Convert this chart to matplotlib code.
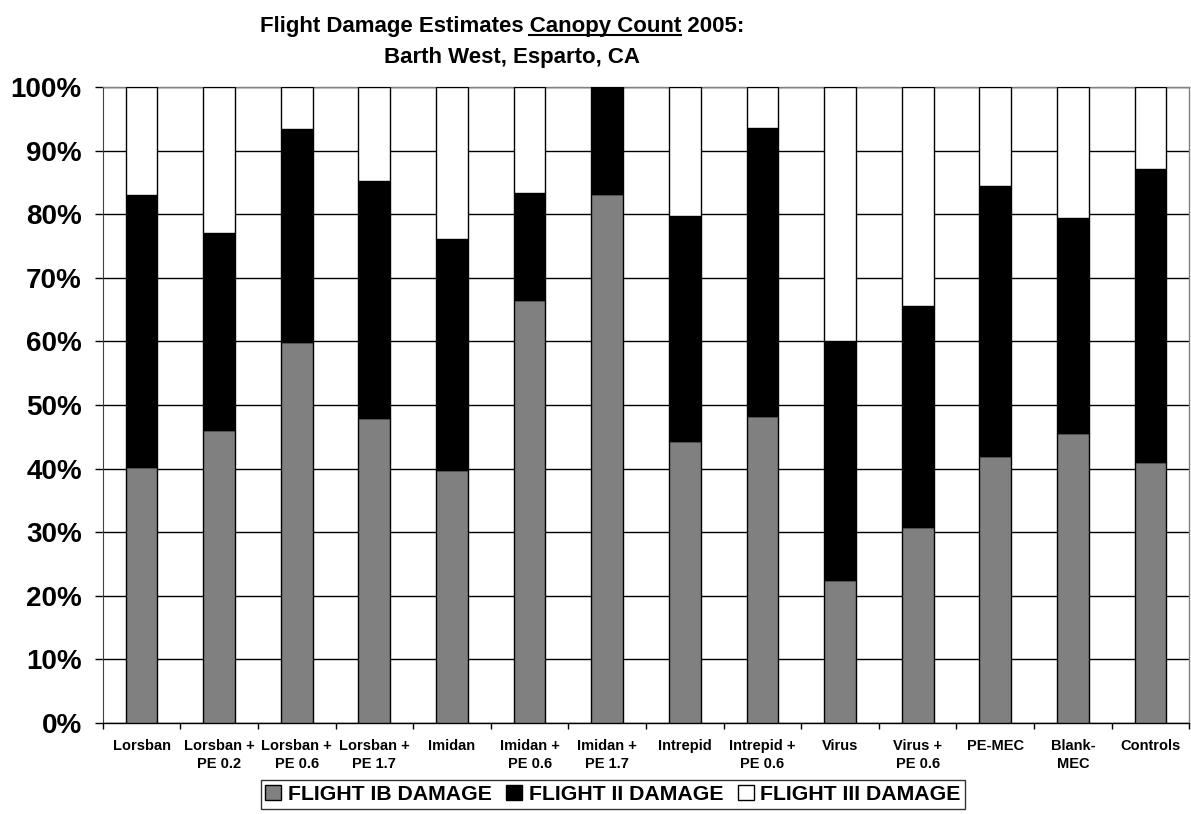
import matplotlib
matplotlib.use("Agg")
import matplotlib.pyplot as plt
import numpy as np
from matplotlib.lines import Line2D
from matplotlib.patches import Patch

plt.rcParams['font.family'] = ['Liberation Sans', 'DejaVu Sans']
plt.rcParams['font.weight'] = 'bold'

categories = ["Lorsban", "Lorsban +\nPE 0.2", "Lorsban +\nPE 0.6", "Lorsban +\nPE 1.7",
              "Imidan", "Imidan +\nPE 0.6", "Imidan +\nPE 1.7", "Intrepid",
              "Intrepid +\nPE 0.6", "Virus", "Virus +\nPE 0.6", "PE-MEC",
              "Blank-\nMEC", "Controls"]

# percent of canopy damage per flight
flight_ib = [40.3, 46.0, 59.9, 48.0, 39.7, 66.5, 83.2, 44.3, 48.3, 22.5, 30.8, 42.0, 45.6, 41.0]
flight_ii = [42.7, 31.0, 33.5, 37.3, 36.5, 16.9, 16.8, 35.4, 45.3, 37.6, 34.8, 42.5, 33.8, 46.1]
flight_iii = [17.0, 23.0, 6.6, 14.7, 23.8, 16.6, 0.0, 20.3, 6.4, 39.9, 34.4, 15.5, 20.6, 12.9]

series_names = ["FLIGHT IB DAMAGE", "FLIGHT II DAMAGE", "FLIGHT III DAMAGE"]
series_colors = ["#808080", "#000000", "#ffffff"]
yticks = [0, 10, 20, 30, 40, 50, 60, 70, 80, 90, 100]

W, H = 1191, 814
fig = plt.figure(figsize=(W / 100, H / 100), dpi=100)
ax = fig.add_axes([102.7 / W, 1 - 722.7 / H, (1189.3 - 102.7) / W, (722.7 - 87.3) / H])

x = np.arange(len(categories))
bottom = np.zeros(len(categories))
for vals, color in zip([flight_ib, flight_ii, flight_iii], series_colors):
    v = np.array(vals)
    ax.bar(x, v, bottom=bottom, width=0.41, color=color, edgecolor="black",
           linewidth=1.0, zorder=3)
    bottom += v

ax.set_xlim(-0.5, len(categories) - 0.5)
ax.set_ylim(0, 100)
ax.set_yticks(yticks)
ax.set_yticklabels([f"{t}%" for t in yticks], fontsize=20, fontweight="bold")
ax.tick_params(axis="y", direction="out", length=6, width=1, pad=9, color="black")
ax.yaxis.grid(True, color="black", linewidth=1.0, zorder=0)
ax.set_axisbelow(True)

ax.set_xticks(x)
ax.set_xticklabels(categories, fontsize=10.5, fontweight="bold", linespacing=1.35)
ax.set_xticks(np.arange(-0.5, len(categories) + 0.5, 1), minor=True)
ax.tick_params(axis="x", which="major", length=0, pad=12)
ax.tick_params(axis="x", which="minor", direction="out", length=4, width=1, color="black")

for side in ["top", "right"]:
    ax.spines[side].set_color("#808080")
    ax.spines[side].set_linewidth(1.0)
ax.spines["left"].set_color("#404040")
ax.spines["bottom"].set_color("black")
ax.spines["bottom"].set_linewidth(1.0)

handles = [Patch(facecolor=c, edgecolor="black", linewidth=1.0) for c in series_colors]
leg = fig.legend(handles, series_names, loc="center", bbox_to_anchor=(613 / W, 1 - 794.5 / H),
                 ncol=3, frameon=True, fancybox=False, edgecolor="black",
                 prop={"weight": "bold", "size": 15.3}, handlelength=0.75, handleheight=0.75,
                 handletextpad=0.3, columnspacing=0.7, borderpad=0.22, borderaxespad=0)
leg.get_frame().set_linewidth(1.0)

# title, with "Canopy Count" underlined
fs = 16
line1_y = 1 - 31.7 / H
prefix = "Flight Damage Estimates "
word = "Canopy Count"
full1 = prefix + word + " 2005:"
t1 = fig.text(501.7 / W, line1_y, full1, ha="center", va="baseline", fontsize=fs,
              fontweight="bold")
fig.text(512.5 / W, 1 - 63.5 / H, "Barth West, Esparto, CA", ha="center", va="baseline",
         fontsize=fs, fontweight="bold")

fig.canvas.draw()
r = fig.canvas.get_renderer()
bb = t1.get_window_extent(r)
tmp_a = fig.text(0, 0, prefix + word, fontsize=fs, fontweight="bold")
tmp_b = fig.text(0, 0, word, fontsize=fs, fontweight="bold")
wa = tmp_a.get_window_extent(r).width
wb = tmp_b.get_window_extent(r).width
tmp_a.remove()
tmp_b.remove()
x_end = (bb.x0 + wa) / W
x_start = (bb.x0 + wa - wb) / W
uy = line1_y - 2.8 / H
fig.add_artist(Line2D([x_start, x_end], [uy, uy], color="black", linewidth=1.5,
                      transform=fig.transFigure))

fig.savefig("out.png", dpi=100, facecolor="white")
